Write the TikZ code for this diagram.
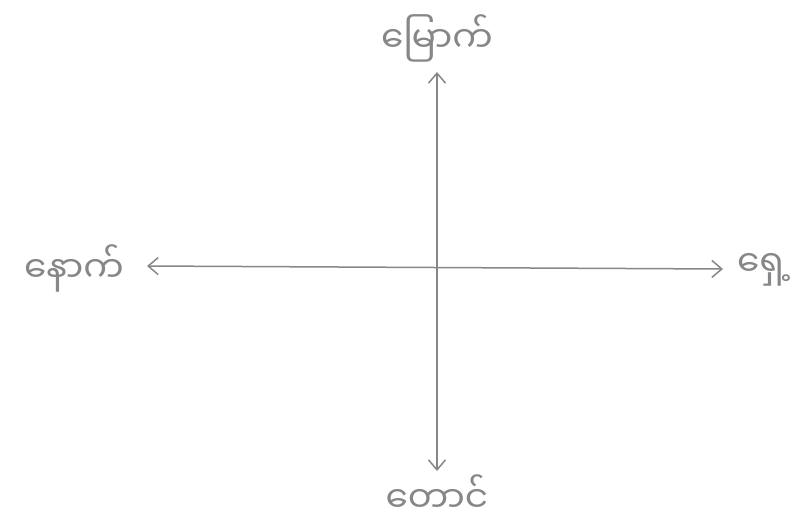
\documentclass[tikz,border=0pt]{standalone}
\usepackage{fontspec}
\newfontfamily\myanmarfont[Script=Myanmar]{Noto Sans Myanmar UI}
\usetikzlibrary{arrows.meta,positioning}
\definecolor{pencilGray}{RGB}{135, 135, 138}

\begin{document}
\begin{tikzpicture}[x=1pt,y=-1pt,
    dirlabel/.style={text=pencilGray, font=\myanmarfont\fontsize{36pt}{42pt}\selectfont, inner sep=0pt},
    axisline/.style={draw=pencilGray, line width=1.5pt, {Straight Barb[length=10pt,width=17pt]}-{Straight Barb[length=10pt,width=17pt]}}]
    \useasboundingbox (0,0) rectangle (810,525);
    % direction words
    \node[dirlabel] (north) at (437,38) {မြောက်};
    \node[dirlabel] (west) at (74,268) {နောက်};
    \node[dirlabel] (east) at (764,270) {ရှေ့};
    \node[dirlabel] (south) at (437,494) {တောင်};
    % arrow tips
    \coordinate (ntip) at (437,72);
    \coordinate (stip) at (437,471);
    \coordinate (wtip) at (147,266);
    \coordinate (etip) at (723,269);
    \draw[axisline] (ntip) -- (stip);
    \draw[axisline] (wtip) -- (etip);
\end{tikzpicture}
\end{document}
